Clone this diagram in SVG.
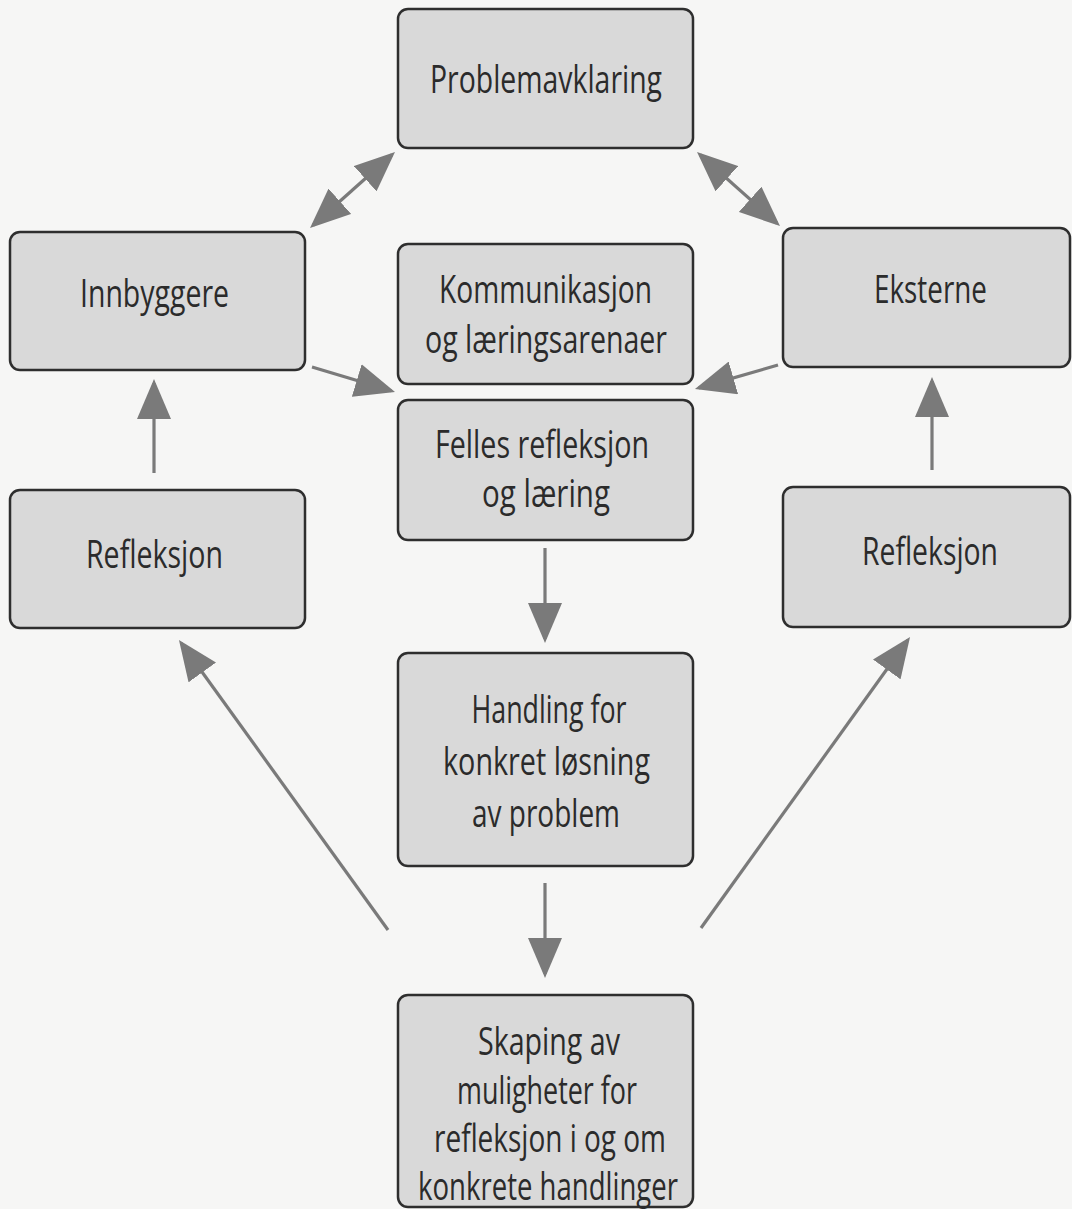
<svg xmlns="http://www.w3.org/2000/svg" width="1072" height="1209" viewBox="0 0 1072 1209">
<defs>
<style>
.box{fill:#d9d9d9;stroke:#2e2e2e;stroke-width:2.5}
.lbl{font-family:"Open Sans","Noto Sans","Liberation Sans",sans-serif;font-size:38px;fill:#2b2b2b;text-anchor:middle}
.con{stroke:#7a7a7a;stroke-width:3.2;fill:none}
</style>
<marker id="ah" markerUnits="userSpaceOnUse" markerWidth="40" markerHeight="34" refX="36" refY="17" orient="auto-start-reverse" viewBox="0 0 40 34">
<path d="M0,0 L40,17 L0,34 Z" fill="#7a7a7a"/>
</marker>
</defs>
<rect width="1072" height="1209" fill="#f6f6f5"/>
<g id="connectors">
<line class="con" x1="313" y1="225.3" x2="392" y2="154.7" marker-start="url(#ah)" marker-end="url(#ah)"/>
<line class="con" x1="700" y1="154.7" x2="777" y2="223.3" marker-start="url(#ah)" marker-end="url(#ah)"/>
<line class="con" x1="312" y1="367" x2="391.2" y2="390.8" marker-end="url(#ah)"/>
<line class="con" x1="778" y1="365" x2="698.8" y2="387.9" marker-end="url(#ah)"/>
<line class="con" x1="388" y1="930" x2="181.3" y2="643.2" marker-end="url(#ah)"/>
<line class="con" x1="701" y1="928" x2="907.7" y2="640.2" marker-end="url(#ah)"/>
<line class="con" x1="154" y1="473" x2="154" y2="383" marker-end="url(#ah)"/>
<line class="con" x1="932" y1="470" x2="932" y2="381" marker-end="url(#ah)"/>
<line class="con" x1="545" y1="548" x2="545" y2="639" marker-end="url(#ah)"/>
<line class="con" x1="545" y1="883" x2="545" y2="974" marker-end="url(#ah)"/>
</g>
<g id="problemavklaring">
<rect class="box" x="398" y="9" width="295" height="139" rx="10"/>
<text class="lbl" x="546" y="93" textLength="232" lengthAdjust="spacingAndGlyphs">Problemavklaring</text>
</g>
<g id="innbyggere">
<rect class="box" x="10" y="232" width="295" height="138" rx="10"/>
<text class="lbl" x="154.5" y="307" textLength="149" lengthAdjust="spacingAndGlyphs">Innbyggere</text>
</g>
<g id="eksterne">
<rect class="box" x="783" y="228" width="287" height="139" rx="10"/>
<text class="lbl" x="930.5" y="303" textLength="113" lengthAdjust="spacingAndGlyphs">Eksterne</text>
</g>
<g id="kommunikasjon">
<rect class="box" x="398" y="244" width="295" height="140" rx="10"/>
<text class="lbl" x="545.5" y="303" textLength="213" lengthAdjust="spacingAndGlyphs">Kommunikasjon</text>
<text class="lbl" x="546" y="353" textLength="242" lengthAdjust="spacingAndGlyphs">og læringsarenaer</text>
</g>
<g id="felles">
<rect class="box" x="398" y="400" width="295" height="140" rx="10"/>
<text class="lbl" x="542" y="458" textLength="214" lengthAdjust="spacingAndGlyphs">Felles refleksjon</text>
<text class="lbl" x="546" y="507" textLength="128" lengthAdjust="spacingAndGlyphs">og læring</text>
</g>
<g id="refleksjon-venstre">
<rect class="box" x="10" y="490" width="295" height="138" rx="10"/>
<text class="lbl" x="154.5" y="568" textLength="137" lengthAdjust="spacingAndGlyphs">Refleksjon</text>
</g>
<g id="refleksjon-hoyre">
<rect class="box" x="783" y="487" width="287" height="140" rx="10"/>
<text class="lbl" x="930" y="565" textLength="136" lengthAdjust="spacingAndGlyphs">Refleksjon</text>
</g>
<g id="handling">
<rect class="box" x="398" y="653" width="295" height="213" rx="10"/>
<text class="lbl" x="549" y="723" textLength="155" lengthAdjust="spacingAndGlyphs">Handling for</text>
<text class="lbl" x="546.5" y="775" textLength="207" lengthAdjust="spacingAndGlyphs">konkret løsning</text>
<text class="lbl" x="546" y="827" textLength="148" lengthAdjust="spacingAndGlyphs">av problem</text>
</g>
<g id="skaping">
<rect class="box" x="398" y="995" width="295" height="212" rx="10"/>
<text class="lbl" x="549" y="1055" textLength="142" lengthAdjust="spacingAndGlyphs">Skaping av</text>
<text class="lbl" x="547" y="1104" textLength="180" lengthAdjust="spacingAndGlyphs">muligheter for</text>
<text class="lbl" x="550" y="1152" textLength="232" lengthAdjust="spacingAndGlyphs">refleksjon i og om</text>
<text class="lbl" x="548" y="1200" textLength="260" lengthAdjust="spacingAndGlyphs">konkrete handlinger</text>
</g>
</svg>
